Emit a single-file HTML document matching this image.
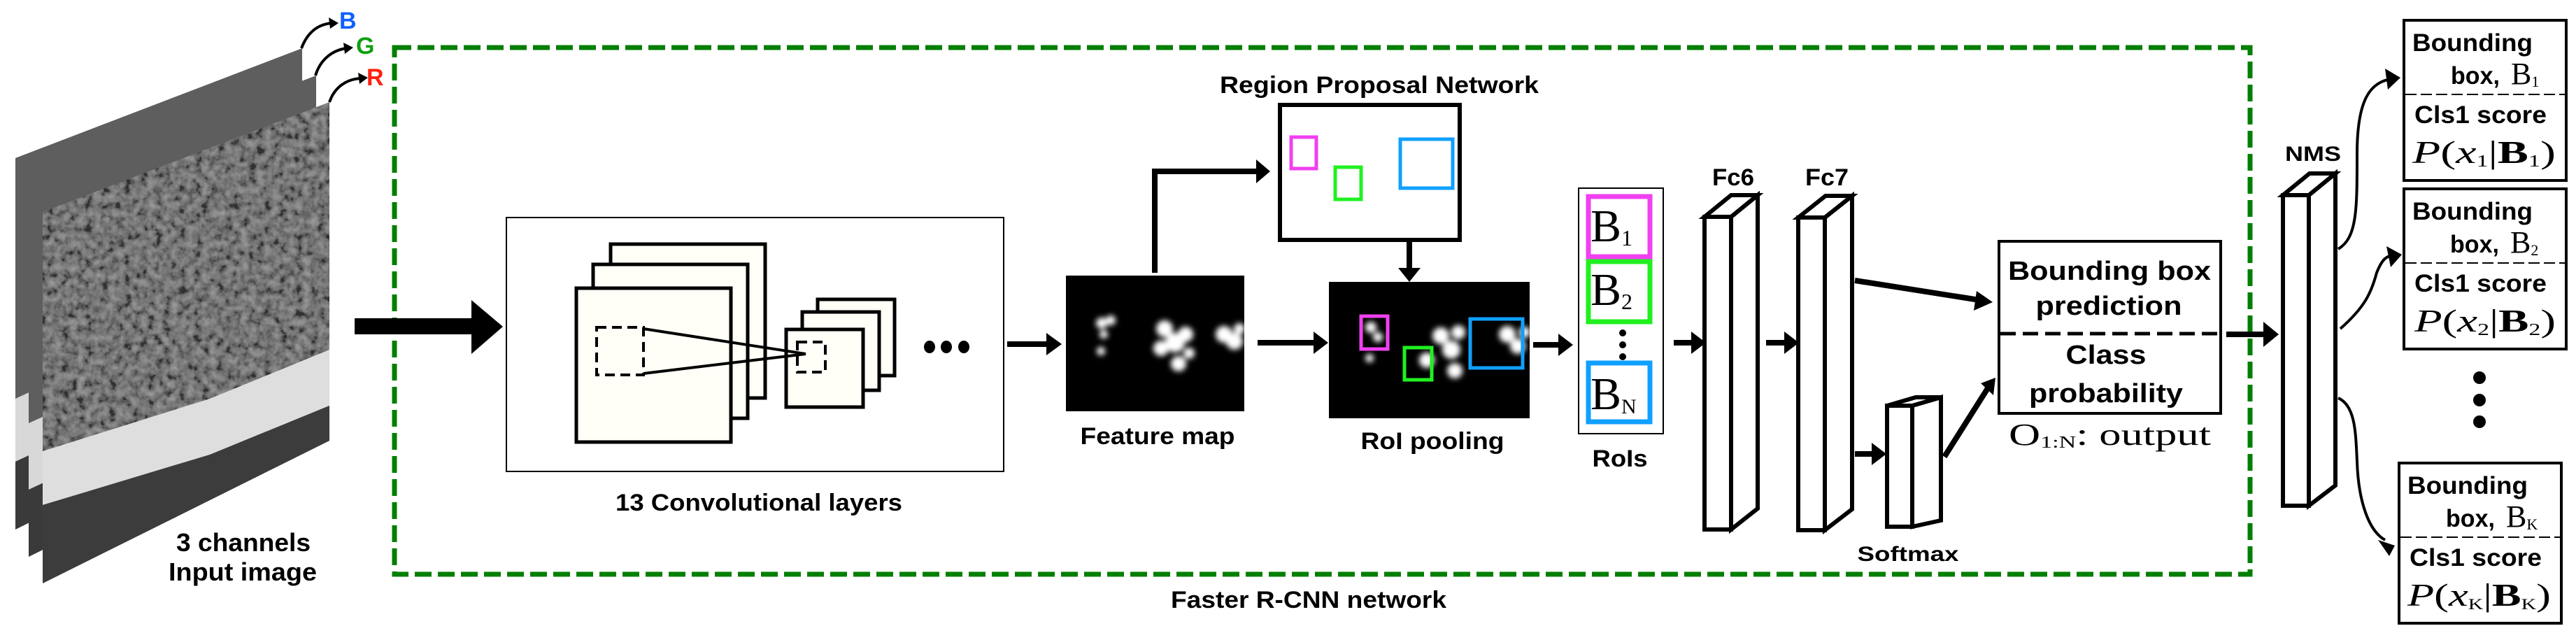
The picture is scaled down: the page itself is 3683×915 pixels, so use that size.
<!DOCTYPE html>
<html><head><meta charset="utf-8"><style>
html,body{margin:0;padding:0;background:#fff;}
svg{display:block;}
text{font-family:"Liberation Sans",Arial,sans-serif;font-weight:bold;fill:#000;}
.sr{font-family:"Liberation Serif",serif;font-weight:normal;}
</style></head><body>
<svg width="3683" height="915" viewBox="0 0 3683 915" xmlns="http://www.w3.org/2000/svg">
<defs>
<filter id="noise" x="0" y="0" width="100%" height="100%"><feTurbulence type="fractalNoise" baseFrequency="0.09" numOctaves="3" seed="7"/>
<feColorMatrix type="saturate" values="0"/>
<feComponentTransfer><feFuncR type="linear" slope="1.4" intercept="-0.45"/><feFuncG type="linear" slope="1.4" intercept="-0.45"/><feFuncB type="linear" slope="1.4" intercept="-0.45"/><feFuncA type="table" tableValues="0.5 0.5"/></feComponentTransfer></filter>
<filter id="blur"><feGaussianBlur stdDeviation="4"/></filter>
<clipPath id="cf"><polygon points="61,303 471,146 471,630 61,834"/></clipPath>
<clipPath id="cm"><polygon points="41,265 452,108 452,592 41,796"/></clipPath>
<clipPath id="cb"><polygon points="22,226 432,69 432,553 22,757"/></clipPath>
</defs>

<!-- image layers -->
<g clip-path="url(#cb)">
<rect x="22" y="69" width="410" height="690" fill="#5e5e5e"/>
<polygon points="22,570 432,380 432,470 22,660" fill="#d8d8d8"/>
<polygon points="22,660 432,470 432,560 22,760" fill="#3a3a3a"/>
</g>
<g clip-path="url(#cm)">
<rect x="41" y="108" width="411" height="690" fill="#5e5e5e"/>
<polygon points="41,605 452,420 452,510 41,700" fill="#d8d8d8"/>
<polygon points="41,700 452,510 452,600 41,800" fill="#3a3a3a"/>
</g>
<g clip-path="url(#cf)">
<rect x="61" y="146" width="410" height="690" fill="#626262"/>
<rect x="61" y="146" width="410" height="690" filter="url(#noise)"/>
<polygon points="61,645 300,570 471,500 471,580 300,650 61,722" fill="#dedede"/>
<polygon points="61,722 300,650 471,580 471,640 61,840" fill="#3c3c3c"/>
</g>
<!-- BGR -->
<g fill="none" stroke="#000" stroke-width="4">
<path d="M431,69 C440,45 455,35 474,33"/>
<path d="M451,108 C458,85 475,72 495,69"/>
<path d="M471,146 C478,125 495,113 516,112"/>
</g>
<polygon points="484,33 470,25 472,41" fill="#000"/>
<polygon points="505,68 491,61 493,77" fill="#000"/>
<polygon points="526,111 512,104 514,120" fill="#000"/>
<text x="485" y="41" font-size="34" style="fill:#1060ff">B</text>
<text x="509" y="77" font-size="34" style="fill:#10a010">G</text>
<text x="524" y="122" font-size="34" style="fill:#ff2010">R</text>
<text x="348" y="788" font-size="36" text-anchor="middle" textLength="192" lengthAdjust="spacingAndGlyphs">3 channels</text>
<text x="347" y="830" font-size="36" text-anchor="middle" textLength="212" lengthAdjust="spacingAndGlyphs">Input image</text>

<!-- green dashed -->
<rect x="564" y="68" width="2653" height="753" fill="none" stroke="#007f00" stroke-width="7" stroke-dasharray="24 9"/>
<text x="1871" y="869" font-size="34" text-anchor="middle" textLength="394" lengthAdjust="spacingAndGlyphs">Faster R-CNN network</text>

<!-- big arrow -->
<polygon points="507,455 674,455 674,429 719,467 674,506 674,478 507,478" fill="#000"/>

<!-- conv box -->
<rect x="724" y="311" width="711" height="363" fill="#fff" stroke="#000" stroke-width="2"/>
<g fill="#fffef7" stroke="#000" stroke-width="5">
<rect x="873" y="349" width="221" height="220"/>
<rect x="848" y="378" width="221" height="220"/>
<rect x="824" y="412" width="221" height="220"/>
<rect x="1169" y="428" width="110" height="109"/>
<rect x="1147" y="446" width="110" height="112"/>
<rect x="1124" y="471" width="110" height="111"/>
</g>
<g fill="none" stroke="#000" stroke-width="4" stroke-dasharray="14 8">
<rect x="853" y="468" width="67" height="68"/>
<rect x="1140" y="489" width="40" height="43"/>
</g>
<g stroke="#000" stroke-width="4"><line x1="920" y1="470" x2="1152" y2="506"/><line x1="920" y1="534" x2="1152" y2="506"/></g>
<g fill="#000"><ellipse cx="1329" cy="496" rx="8" ry="9"/><ellipse cx="1353" cy="496" rx="8" ry="9"/><ellipse cx="1378" cy="496" rx="8" ry="9"/></g>
<text x="1085" y="730" font-size="34" text-anchor="middle" textLength="410" lengthAdjust="spacingAndGlyphs">13 Convolutional layers</text>

<!-- arrows -->
<g stroke="#000" stroke-width="8" fill="none">
<line x1="1440" y1="492" x2="1500" y2="492"/>
<polyline points="1651,390 1651,245 1800,245"/>
<line x1="2015" y1="343" x2="2015" y2="385"/>
<line x1="1798" y1="490" x2="1882" y2="490"/>
<line x1="2192" y1="493" x2="2232" y2="493"/>
<line x1="2393" y1="490" x2="2422" y2="490"/>
<line x1="2525" y1="490" x2="2555" y2="490"/>
<line x1="2652" y1="401" x2="2830" y2="429"/>
<line x1="2652" y1="649" x2="2680" y2="649"/>
<line x1="2780" y1="653" x2="2842" y2="555"/>
<line x1="3183" y1="478" x2="3240" y2="478"/>
</g>
<g fill="#000">
<polygon points="1496,476 1518,492 1496,508"/>
<polygon points="1796,228 1816,245 1796,262"/>
<polygon points="1999,383 2015,403 2031,383"/>
<polygon points="1878,474 1899,490 1878,506"/>
<polygon points="2228,477 2249,493 2228,509"/>
<polygon points="2418,474 2439,490 2418,506"/>
<polygon points="2551,474 2572,490 2551,506"/>
<polygon points="2826,416 2849,432 2822,444"/>
<polygon points="2676,633 2697,649 2676,665"/>
<polygon points="2832,548 2853,540 2850,565"/>
<polygon points="3236,460 3258,478 3236,496"/>
</g>

<!-- feature map -->
<rect x="1524" y="394" width="255" height="194" fill="#000"/>
<g fill="#fff" filter="url(#blur)">
<circle cx="1575" cy="462" r="8"/><circle cx="1588" cy="458" r="7"/><circle cx="1578" cy="478" r="6"/><circle cx="1574" cy="502" r="6"/>
<circle cx="1665" cy="470" r="12"/><circle cx="1680" cy="490" r="14"/><circle cx="1660" cy="498" r="11"/><circle cx="1695" cy="478" r="11"/><circle cx="1685" cy="520" r="11"/><circle cx="1700" cy="505" r="8"/>
<circle cx="1750" cy="478" r="12"/><circle cx="1765" cy="488" r="12"/><circle cx="1772" cy="470" r="8"/>
</g>
<text x="1655" y="635" font-size="34" text-anchor="middle" textLength="221" lengthAdjust="spacingAndGlyphs">Feature map</text>

<!-- RPN -->
<rect x="1830" y="150" width="257" height="193" fill="#fff" stroke="#000" stroke-width="6"/>
<g fill="none" stroke-width="5">
<rect x="1846" y="196" width="36" height="45" stroke="#f040f0"/>
<rect x="1909" y="239" width="37" height="46" stroke="#20f020"/>
<rect x="2002" y="199" width="75" height="70" stroke="#10a0ff"/>
</g>
<text x="1972" y="133" font-size="34" text-anchor="middle" textLength="456" lengthAdjust="spacingAndGlyphs">Region Proposal Network</text>

<!-- RoI pooling -->
<rect x="1900" y="403" width="287" height="195" fill="#000"/>
<g fill="#fff" filter="url(#blur)">
<circle cx="1960" cy="468" r="8"/><circle cx="1970" cy="482" r="7"/><circle cx="1958" cy="512" r="6"/>
<circle cx="2060" cy="480" r="12"/><circle cx="2075" cy="500" r="13"/><circle cx="2040" cy="515" r="11"/><circle cx="2085" cy="475" r="10"/><circle cx="2080" cy="530" r="11"/>
<circle cx="2155" cy="478" r="12"/><circle cx="2170" cy="495" r="11"/><circle cx="2180" cy="475" r="8"/>
</g>
<g fill="none" stroke-width="5">
<rect x="1946" y="452" width="38" height="47" stroke="#f040f0"/>
<rect x="2008" y="497" width="39" height="46" stroke="#20f020"/>
<rect x="2102" y="456" width="75" height="70" stroke="#10a0ff"/>
</g>
<text x="2048" y="642" font-size="34" text-anchor="middle" textLength="205" lengthAdjust="spacingAndGlyphs">RoI pooling</text>

<!-- RoIs -->
<rect x="2257" y="269" width="121" height="351" fill="#fff" stroke="#000" stroke-width="2"/>
<g fill="none" stroke-width="7">
<rect x="2271" y="281" width="88" height="86" stroke="#f040f0"/>
<rect x="2271" y="374" width="88" height="86" stroke="#20f020"/>
<rect x="2271" y="519" width="88" height="84" stroke="#10a0ff"/>
</g>
<text class="sr" x="2274" y="345" font-size="66">B<tspan font-size="32" dy="6">1</tspan></text>
<text class="sr" x="2274" y="436" font-size="66">B<tspan font-size="32" dy="6">2</tspan></text>
<text class="sr" x="2274" y="585" font-size="66">B<tspan font-size="30" dy="6">N</tspan></text>
<g fill="#000"><circle cx="2320" cy="476" r="5"/><circle cx="2320" cy="493" r="5"/><circle cx="2320" cy="510" r="5"/></g>
<text x="2316" y="667" font-size="34" text-anchor="middle" textLength="79" lengthAdjust="spacingAndGlyphs">RoIs</text>

<!-- Fc blocks -->
<g fill="#fff" stroke="#000" stroke-width="6" stroke-linejoin="miter">
<polygon points="2475,310 2513,279 2513,727 2475,757"/>
<polygon points="2437,310 2475,310 2513,279 2475,279"/>
<rect x="2437" y="310" width="38" height="447"/>
<polygon points="2609,311 2648,280 2648,728 2609,758"/>
<polygon points="2571,311 2609,311 2648,280 2610,280"/>
<rect x="2571" y="311" width="38" height="447"/>
<polygon points="2734,580 2775,568 2775,744 2734,753"/>
<polygon points="2698,580 2734,580 2775,568 2739,568"/>
<rect x="2698" y="580" width="36" height="173"/>
<polygon points="3301,279 3339,248 3339,694 3301,723"/>
<polygon points="3264,279 3301,279 3339,248 3302,248"/>
<rect x="3264" y="279" width="37" height="444"/>
</g>
<text x="2478" y="265" font-size="34" text-anchor="middle" textLength="60" lengthAdjust="spacingAndGlyphs">Fc6</text>
<text x="2612" y="265" font-size="34" text-anchor="middle" textLength="62" lengthAdjust="spacingAndGlyphs">Fc7</text>
<text x="2728" y="802" font-size="30" text-anchor="middle" textLength="145" lengthAdjust="spacingAndGlyphs">Softmax</text>
<text x="3307" y="230" font-size="30" text-anchor="middle" textLength="80" lengthAdjust="spacingAndGlyphs">NMS</text>

<!-- BB / Class box -->
<rect x="2858" y="345" width="317" height="246" fill="#fff" stroke="#000" stroke-width="4"/>
<line x1="2860" y1="477" x2="3173" y2="477" stroke="#000" stroke-width="5" stroke-dasharray="22 10"/>
<text x="3016" y="400" font-size="38" text-anchor="middle" textLength="290" lengthAdjust="spacingAndGlyphs">Bounding box</text>
<text x="3015" y="450" font-size="38" text-anchor="middle" textLength="209" lengthAdjust="spacingAndGlyphs">prediction</text>
<text x="3011" y="520" font-size="38" text-anchor="middle" textLength="115" lengthAdjust="spacingAndGlyphs">Class</text>
<text x="3011" y="575" font-size="38" text-anchor="middle" textLength="220" lengthAdjust="spacingAndGlyphs">probability</text>
<text class="sr" x="2872" y="636" font-size="44" textLength="289" lengthAdjust="spacingAndGlyphs">O<tspan font-size="24" dy="4">1:N</tspan><tspan dy="-4">: output</tspan></text>

<!-- NMS curves -->
<g fill="none" stroke="#000" stroke-width="4">
<path d="M3343,356 C3370,340 3370,300 3370,220 C3370,140 3390,118 3418,113"/>
<path d="M3346,470 C3380,440 3390,420 3398,390 C3406,370 3412,366 3422,365"/>
<path d="M3343,569 C3368,580 3368,620 3370,660 C3372,720 3388,760 3410,772"/>
</g>
<g fill="#000">
<polygon points="3432,111 3410,98 3414,128"/>
<polygon points="3434,364 3412,352 3418,382"/>
<polygon points="3424,780 3400,772 3416,795"/>
</g>

<!-- output boxes -->
<g font-size="35">
<g>
<rect x="3437" y="29" width="232" height="229" fill="#fff" stroke="#000" stroke-width="4"/>
<line x1="3439" y1="135" x2="3667" y2="135" stroke="#000" stroke-width="2" stroke-dasharray="16 6"/>
<text x="3449" y="73" textLength="172" lengthAdjust="spacingAndGlyphs">Bounding</text>
<text x="3504" y="120" textLength="70" lengthAdjust="spacingAndGlyphs">box,</text>
<text class="sr" x="3590" y="120" font-size="44">B<tspan font-size="22" dy="4">1</tspan></text>
<text x="3452" y="176" textLength="189" lengthAdjust="spacingAndGlyphs">Cls1 score</text>
<text class="sr" x="3449" y="233" font-size="46" textLength="205" lengthAdjust="spacingAndGlyphs"><tspan font-style="italic">P</tspan>(<tspan font-style="italic">x</tspan><tspan font-size="24" dy="5">1</tspan><tspan dy="-5">|</tspan><tspan font-weight="bold">B</tspan><tspan font-size="24" dy="5">1</tspan><tspan dy="-5">)</tspan></text>
</g>
<g transform="translate(0,241)">
<rect x="3437" y="29" width="232" height="229" fill="#fff" stroke="#000" stroke-width="4"/>
<line x1="3439" y1="135" x2="3667" y2="135" stroke="#000" stroke-width="2" stroke-dasharray="16 6"/>
<text x="3449" y="73" textLength="172" lengthAdjust="spacingAndGlyphs">Bounding</text>
<text x="3503" y="120" textLength="70" lengthAdjust="spacingAndGlyphs">box,</text>
<text class="sr" x="3589" y="120" font-size="44">B<tspan font-size="22" dy="4">2</tspan></text>
<text x="3452" y="176" textLength="189" lengthAdjust="spacingAndGlyphs">Cls1 score</text>
<text class="sr" x="3452" y="233" font-size="46" textLength="202" lengthAdjust="spacingAndGlyphs"><tspan font-style="italic">P</tspan>(<tspan font-style="italic">x</tspan><tspan font-size="24" dy="5">2</tspan><tspan dy="-5">|</tspan><tspan font-weight="bold">B</tspan><tspan font-size="24" dy="5">2</tspan><tspan dy="-5">)</tspan></text>
</g>
<g transform="translate(-7,633)">
<rect x="3437" y="29" width="232" height="229" fill="#fff" stroke="#000" stroke-width="4"/>
<line x1="3439" y1="135" x2="3667" y2="135" stroke="#000" stroke-width="2" stroke-dasharray="16 6"/>
<text x="3449" y="73" textLength="172" lengthAdjust="spacingAndGlyphs">Bounding</text>
<text x="3504" y="120" textLength="70" lengthAdjust="spacingAndGlyphs">box,</text>
<text class="sr" x="3590" y="120" font-size="44">B<tspan font-size="22" dy="4">K</tspan></text>
<text x="3452" y="176" textLength="189" lengthAdjust="spacingAndGlyphs">Cls1 score</text>
<text class="sr" x="3449" y="233" font-size="46" textLength="205" lengthAdjust="spacingAndGlyphs"><tspan font-style="italic">P</tspan>(<tspan font-style="italic">x</tspan><tspan font-size="22" dy="5">K</tspan><tspan dy="-5">|</tspan><tspan font-weight="bold">B</tspan><tspan font-size="22" dy="5">K</tspan><tspan dy="-5">)</tspan></text>
</g>
</g>
<g fill="#000"><circle cx="3545" cy="540" r="9"/><circle cx="3545" cy="572" r="9"/><circle cx="3545" cy="603" r="9"/></g>
</svg>
</body></html>
